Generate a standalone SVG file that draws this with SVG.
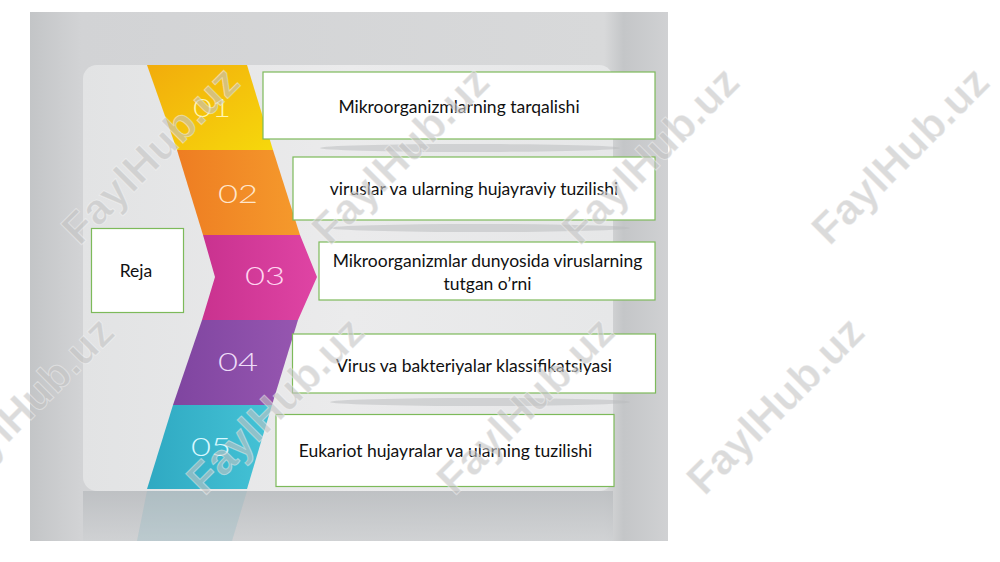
<svg xmlns="http://www.w3.org/2000/svg" width="1000" height="562" viewBox="0 0 1000 562">
<defs>
<linearGradient id="bg" x1="0" y1="0" x2="1" y2="0">
<stop offset="0" stop-color="#c3c5c7"/>
<stop offset="0.08" stop-color="#d2d3d5"/>
<stop offset="0.9" stop-color="#d8d9da"/>
<stop offset="0.93" stop-color="#c4c6c8"/>
<stop offset="1" stop-color="#d0d1d3"/>
</linearGradient>
<linearGradient id="panel" x1="0" y1="0" x2="1" y2="0">
<stop offset="0" stop-color="#e2e3e4"/>
<stop offset="0.5" stop-color="#ebebec"/>
<stop offset="1" stop-color="#e6e7e8"/>
</linearGradient>
<linearGradient id="refl" x1="0" y1="0" x2="0" y2="1">
<stop offset="0" stop-color="#b9bcbf"/>
<stop offset="1" stop-color="#cfd1d3"/>
</linearGradient>
<linearGradient id="yel" x1="0" y1="0" x2="1" y2="1">
<stop offset="0" stop-color="#f2ac0c"/>
<stop offset="1" stop-color="#f6d80c"/>
</linearGradient>
<linearGradient id="org" x1="0" y1="0" x2="1" y2="0">
<stop offset="0" stop-color="#ee7d22"/>
<stop offset="1" stop-color="#f59a2c"/>
</linearGradient>
<linearGradient id="mag" x1="0" y1="0" x2="1" y2="0">
<stop offset="0" stop-color="#c9328f"/>
<stop offset="1" stop-color="#df44a4"/>
</linearGradient>
<linearGradient id="pur" x1="0" y1="0" x2="1" y2="0">
<stop offset="0" stop-color="#7f45a0"/>
<stop offset="1" stop-color="#9656b0"/>
</linearGradient>
<linearGradient id="cya" x1="0" y1="0" x2="1" y2="0">
<stop offset="0" stop-color="#2fa9c2"/>
<stop offset="1" stop-color="#45c3d6"/>
</linearGradient>
<style>
.box{fill:#ffffff;stroke:#7dba5a;stroke-width:1.2}
.lbl{font-family:Lato,"Liberation Sans",sans-serif;font-size:17.5px;fill:#111111;text-anchor:middle}
.num{font-family:Lato,"Open Sans",sans-serif;font-weight:300;font-size:25px;text-anchor:middle}
.wm{font-family:"Liberation Sans",Arial,sans-serif;font-weight:bold;font-size:43px;fill:#c4c4c4;fill-opacity:0.6;stroke:#ffffff;stroke-opacity:0.4;stroke-width:1;text-anchor:middle}
</style>
</defs>
<rect x="0" y="0" width="1000" height="562" fill="#ffffff"/>
<g id="background">
<rect x="30" y="12" width="638" height="529" fill="url(#bg)"/>
<rect x="83" y="65" width="530" height="426" rx="14" fill="url(#panel)"/>
<rect x="83" y="491" width="530" height="50" fill="url(#refl)" opacity="0.8"/>
<polygon points="147,491 247,491 232,541 137,541" fill="#7fb3bf" opacity="0.25"/>
<ellipse cx="470" cy="148" rx="150" ry="4" fill="#b8babc" opacity="0.5"/>
<ellipse cx="480" cy="228" rx="150" ry="4" fill="#b8babc" opacity="0.5"/>
<ellipse cx="480" cy="402" rx="150" ry="4" fill="#b8babc" opacity="0.5"/>
</g>
<g id="ribbon">
<polygon id="seg01" points="147,65 247,65 273,150 177,150" fill="url(#yel)"/>
<polygon id="seg02" points="177,150 273,150 300,235 203,235" fill="url(#org)"/>
<polygon id="seg03" points="203,235 300,235 317,277 298,320 202,320 215,277" fill="url(#mag)"/>
<polygon id="seg04" points="202,320 298,320 272,405 173,405" fill="url(#pur)"/>
<polygon id="seg05" points="173,405 272,405 247,489 147,489" fill="url(#cya)"/>
<text class="num" x="212" y="117" fill="#fff6b0" textLength="38" lengthAdjust="spacingAndGlyphs">01</text>
<text class="num" x="238" y="203" fill="#ffe6cc" textLength="40" lengthAdjust="spacingAndGlyphs">02</text>
<text class="num" x="265" y="285" fill="#ffd6f0" textLength="40" lengthAdjust="spacingAndGlyphs">03</text>
<text class="num" x="238" y="371" fill="#eedcf8" textLength="40" lengthAdjust="spacingAndGlyphs">04</text>
<text class="num" x="211" y="456" fill="#d8f8ff" textLength="40" lengthAdjust="spacingAndGlyphs">05</text>
</g>
<g id="connectors"></g>
<g id="reja">
<rect class="box" x="91.5" y="228.5" width="92" height="84"/>
<text class="lbl" x="136" y="277">Reja</text>
</g>
<g id="item1">
<rect class="box" x="263" y="72" width="392" height="67"/>
<text class="lbl" x="459" y="113">Mikroorganizmlarning tarqalishi</text>
</g>
<g id="item2">
<rect class="box" x="293" y="157" width="362" height="63"/>
<text class="lbl" x="474" y="195">viruslar va ularning hujayraviy tuzilishi</text>
</g>
<g id="item3">
<rect class="box" x="319" y="242" width="336" height="58"/>
<text class="lbl" x="487.5" y="267">Mikroorganizmlar dunyosida viruslarning</text>
<text class="lbl" x="487.5" y="290">tutgan o’rni</text>
</g>
<g id="item4">
<rect class="box" x="292.5" y="334" width="363" height="59"/>
<text class="lbl" x="474" y="372">Virus va bakteriyalar klassifikatsiyasi</text>
</g>
<g id="item5">
<rect class="box" x="276" y="414.5" width="338" height="72"/>
<text class="lbl" x="445.5" y="457">Eukariot hujayralar va ularning tuzilishi</text>
</g>
<g id="watermarks">
<text class="wm" transform="translate(150,155) rotate(-45)" y="15">FaylHub.uz</text>
<text class="wm" transform="translate(400,155) rotate(-45)" y="15">FaylHub.uz</text>
<text class="wm" transform="translate(650,155) rotate(-45)" y="15">FaylHub.uz</text>
<text class="wm" transform="translate(900,155) rotate(-45)" y="15">FaylHub.uz</text>
<text class="wm" transform="translate(25,405) rotate(-45)" y="15">FaylHub.uz</text>
<text class="wm" transform="translate(275,405) rotate(-45)" y="15">FaylHub.uz</text>
<text class="wm" transform="translate(525,405) rotate(-45)" y="15">FaylHub.uz</text>
<text class="wm" transform="translate(775,405) rotate(-45)" y="15">FaylHub.uz</text>
</g>
</svg>
